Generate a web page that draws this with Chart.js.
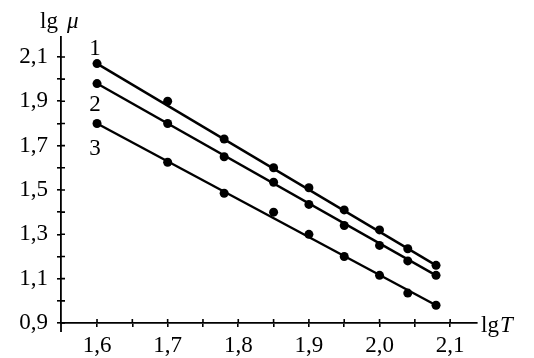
<!DOCTYPE html>
<html><head><meta charset="utf-8">
<script src="https://cdn.jsdelivr.net/npm/chart.js@4/dist/chart.umd.min.js"></script>
<style>html,body{margin:0;padding:0;background:#fff}#wrap{width:534px;height:358px}</style>
</head><body><div id="wrap"><canvas id="c" width="534" height="358"></canvas></div>
<script>
const lgT = [1.6, 1.7, 1.78, 1.85, 1.9, 1.95, 2.0, 2.04, 2.08];
const series1 = [2.07, 1.90, 1.73, 1.60, 1.51, 1.41, 1.32, 1.235, 1.16];
const series2 = [1.98, 1.80, 1.65, 1.535, 1.435, 1.34, 1.25, 1.18, 1.115];
const series3 = [1.80, 1.625, 1.485, 1.40, 1.30, 1.20, 1.115, 1.035, 0.98];
const fitX = [1.6, 2.08];
const fit1 = [2.07, 1.16];
const fit2 = [1.98, 1.115];
const fit3 = [1.80, 0.98];
const xTicks = [1.6, 1.65, 1.7, 1.75, 1.8, 1.85, 1.9, 1.95, 2.0, 2.05, 2.1];
const xTickLabels = ['1,6', '', '1,7', '', '1,8', '', '1,9', '', '2,0', '', '2,1'];
const yTicks = [0.9, 1.0, 1.1, 1.2, 1.3, 1.4, 1.5, 1.6, 1.7, 1.8, 1.9, 2.0, 2.1];
const yTickLabels = ['0,9', '', '1,1', '', '1,3', '', '1,5', '', '1,7', '', '1,9', '', '2,1'];
const seriesNames = ['1', '2', '3'];

const pts = arr => arr.map((v, i) => ({x: lgT[i], y: v}));
const fit = arr => arr.map((v, i) => ({x: fitX[i], y: v}));
const FONT = 'Liberation Serif';

const ptsDs = a => ({type: 'scatter', data: pts(a), showLine: false, pointRadius: 4.5, pointBackgroundColor: '#000', pointBorderWidth: 0, borderColor: '#000'});
const lineDs = a => ({type: 'line', data: fit(a), showLine: true, pointRadius: 0, borderColor: '#000', borderWidth: 2.4, tension: 0});

const deco = {
  id: 'deco',
  afterDraw(chart) {
    const ctx = chart.ctx, xs = chart.scales.x, ys = chart.scales.y;
    ctx.save();
    ctx.strokeStyle = '#000'; ctx.lineWidth = 1.6;
    const x0 = xs.left, y0 = ys.bottom;
    ctx.beginPath();
    xTicks.forEach(v => { const p = xs.getPixelForValue(v); ctx.moveTo(p, y0); ctx.lineTo(p, y0 - 4); });
    yTicks.forEach(v => { const p = ys.getPixelForValue(v); ctx.moveTo(x0, p); ctx.lineTo(x0 + 4, p); });
    ctx.stroke();
    ctx.lineWidth = 1.8;
    ctx.beginPath(); ctx.moveTo(x0, y0); ctx.lineTo(x0, y0 + 9); ctx.stroke();
    ctx.fillStyle = '#000';
    ctx.textBaseline = 'alphabetic';
    ctx.font = '23px "' + FONT + '"';
    ctx.fillText('lg', 40, 28);
    ctx.font = 'italic 23px "' + FONT + '"';
    ctx.fillText('μ', 67, 28);
    ctx.font = '23px "' + FONT + '"';
    ctx.fillText('lg', 481, 332);
    ctx.font = 'italic 23px "' + FONT + '"';
    ctx.fillText('T', 500, 332);
    ctx.font = '23px "' + FONT + '"';
    ctx.textAlign = 'center';
    ctx.fillText(seriesNames[0], 95, 55);
    ctx.fillText(seriesNames[1], 95, 111);
    ctx.fillText(seriesNames[2], 95, 155);
    ctx.restore();
  }
};

new Chart(document.getElementById('c'), {
  data: {datasets: [lineDs(fit1), lineDs(fit2), lineDs(fit3), ptsDs(series1), ptsDs(series2), ptsDs(series3)]},
  options: {
    responsive: false, animation: false,
    layout: {padding: {left: 0, top: 37, right: 57, bottom: 0}},
    plugins: {legend: {display: false}, tooltip: {enabled: false}},
    scales: {
      x: {
        type: 'linear', min: 1.549, max: 2.138,
        afterBuildTicks: s => { s.ticks = xTicks.map(v => ({value: v})); },
        afterFit: s => { s.height = 35; },
        grid: {display: true, drawOnChartArea: false, drawTicks: true, tickLength: 4, color: '#000', lineWidth: 1.6},
        border: {display: true, color: '#000', width: 1.8},
        ticks: {autoSkip: false, maxRotation: 0, padding: 5, color: '#000', font: {family: FONT, size: 23},
          callback: (v, i) => xTickLabels[i]}
      },
      y: {
        type: 'linear', min: 0.9, max: 2.19,
        afterBuildTicks: s => { s.ticks = yTicks.map(v => ({value: v})); },
        afterFit: s => { s.width = 61; },
        grid: {display: true, drawOnChartArea: false, drawTicks: true, tickLength: 4, color: '#000', lineWidth: 1.6},
        border: {display: true, color: '#000', width: 1.8},
        ticks: {autoSkip: false, padding: 9, color: '#000', font: {family: FONT, size: 23},
          callback: (v, i) => yTickLabels[i]}
      }
    }
  },
  plugins: [deco]
});
</script></body></html>
